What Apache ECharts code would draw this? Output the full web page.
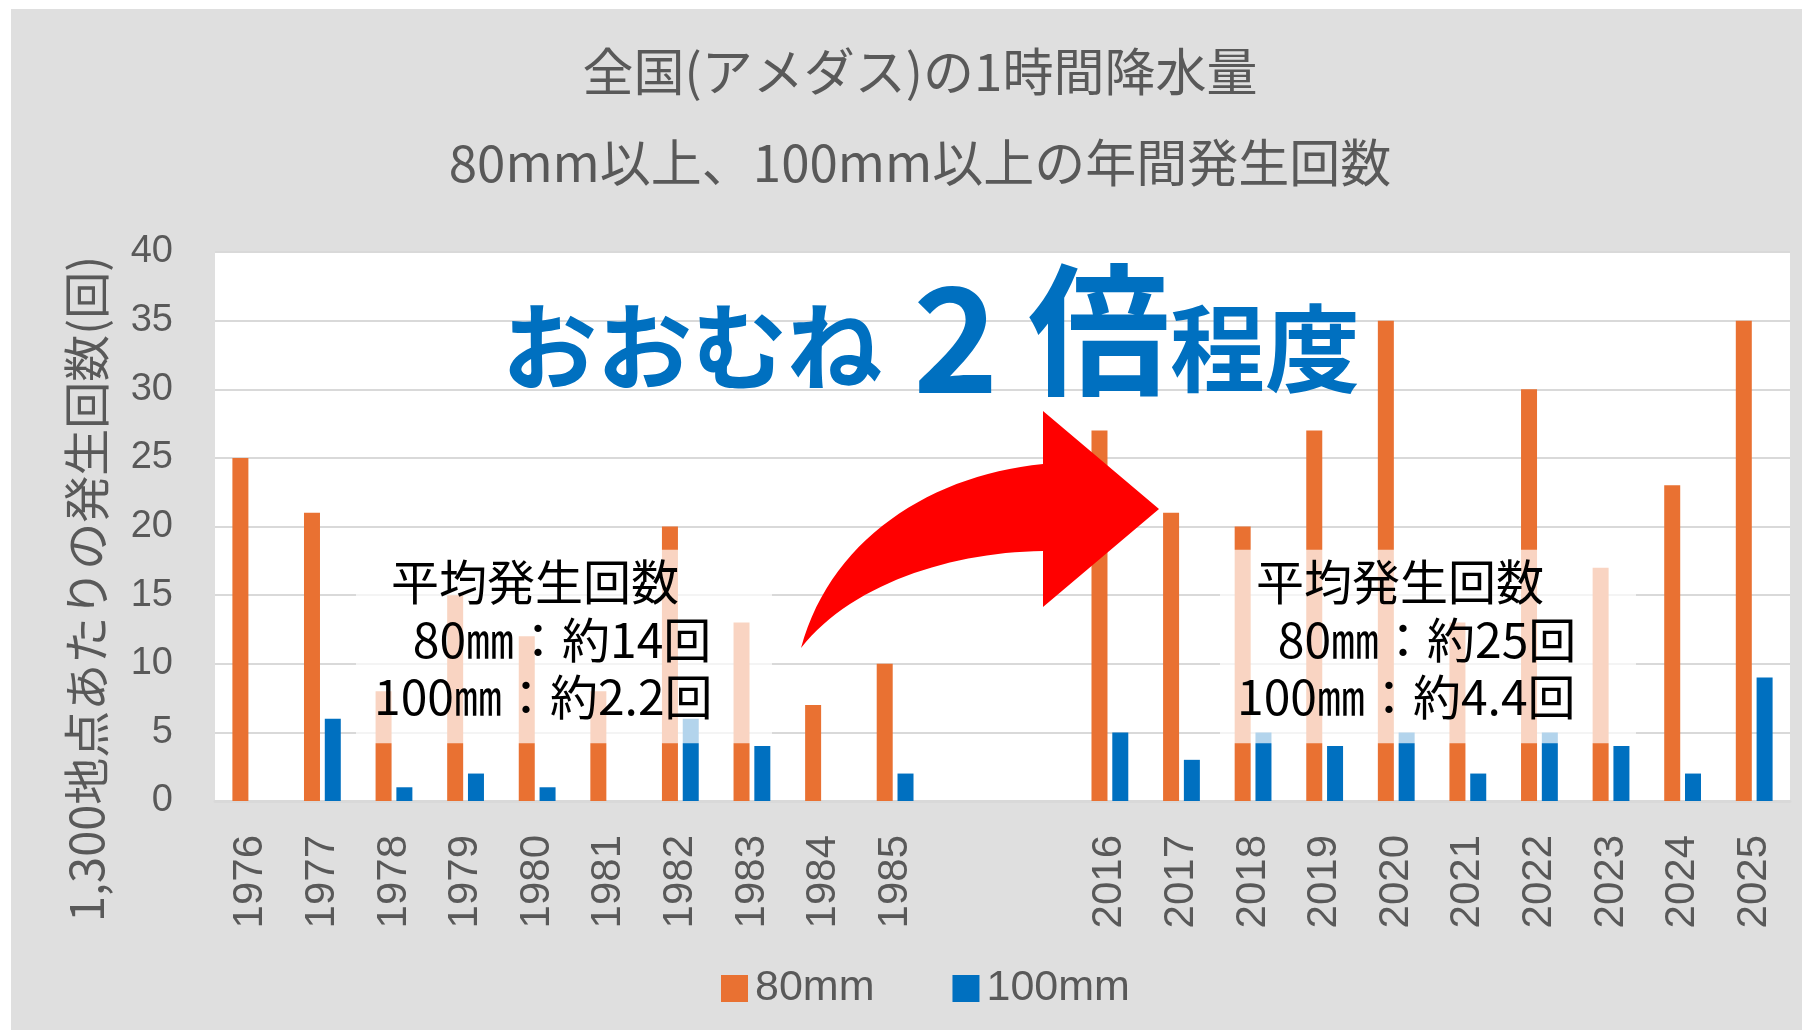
<!DOCTYPE html>
<html>
<head>
<meta charset="utf-8">
<script src="https://cdn.jsdelivr.net/npm/echarts@6/dist/echarts.min.js"></script>
<style>
html,body{margin:0;padding:0;background:#fff;}
#chart{width:1802px;height:1030px;}
</style>
</head>
<body>
<div id="chart"></div>
<script>
// ---- data ----
const categories = ['1976','1977','1978','1979','1980','1981','1982','1983','1984','1985',' ','  ',
                    '2016','2017','2018','2019','2020','2021','2022','2023','2024','2025'];
const rain80  = [25,21,8,15,12,8,20,13,7,10,null,null,27,21,20,27,35,13,30,17,23,35];
const rain100 = [0,6,1,2,1,0,6,4,0,2,null,null,5,3,5,4,5,2,5,4,2,9];
const seriesNames = ['80mm','100mm'];
const yTicks = {min:0, max:40, interval:5};
const titleLines = ['全国(アメダス)の1時間降水量','80mm以上、100mm以上の年間発生回数'];
const yAxisTitle = '1,300地点あたりの発生回数(回)';
const boxLeftLines = ['平均発生回数',' 80㎜：約14回','100㎜：約2.2回'];
const boxRightLines = ['平均発生回数',' 80㎜：約25回','100㎜：約4.4回'];
const boxValueRange = [4.2, 18.3];

const GRAY = '#595959';
const LATIN = '"Liberation Sans", Arial, sans-serif';
const CJK = '"Noto Sans CJK JP", "Noto Sans", sans-serif';

const chart = echarts.init(document.getElementById('chart'), null, {renderer:'canvas'});

chart.setOption({
  backgroundColor: '#dfdfdf',
  animation: false,
  title: {
    text: titleLines.join('\n'),
    left: 915, top: 21, textAlign: 'center',
    textStyle: {fontFamily: CJK, fontWeight: 'normal', fontSize: 51, color: GRAY, lineHeight: 91}
  },
  legend: {
    data: seriesNames,
    left: 716, top: 962,
    itemWidth: 27, itemHeight: 27, itemGap: 78,
    icon: 'rect',
    textStyle: {fontFamily: LATIN, fontSize: 43, color: GRAY, padding: [0,0,0,2]}
  },
  grid: {left: 215, right: 12, top: 252, bottom: 229, show: true, backgroundColor: '#ffffff', borderWidth: 0, containLabel: false},
  xAxis: {
    type: 'category', data: categories,
    axisLine: {show: true, lineStyle: {color: '#d9d9d9', width: 3}},
    axisTick: {show: false},
    axisLabel: {rotate: 90, margin: 34, fontFamily: LATIN, fontSize: 42, color: GRAY, interval: 0}
  },
  yAxis: {
    type: 'value', min: yTicks.min, max: yTicks.max, interval: yTicks.interval,
    axisLine: {show: false}, axisTick: {show: false},
    axisLabel: {margin: 42, fontFamily: LATIN, fontSize: 38, color: GRAY},
    splitLine: {lineStyle: {color: '#d9d9d9', width: 2}}
  },
  series: [
    {name: seriesNames[0], type: 'bar', data: rain80, barWidth: 16, barGap: '30%', itemStyle: {color: '#E97132'}},
    {name: seriesNames[1], type: 'bar', data: rain100, barWidth: 16, barGap: '30%', itemStyle: {color: '#0070C0'}}
  ]
});

// annotation layer
const yTop = chart.convertToPixel({yAxisIndex:0}, boxValueRange[1]);
const yBot = chart.convertToPixel({yAxisIndex:0}, boxValueRange[0]);

function boxTexts(lines, xs) {
  const ys = [582, 640, 697];
  return lines.map((t, i) => ({
    type: 'text', z: 120, x: xs[i], y: ys[i],
    style: {text: t, fontFamily: CJK, fontSize: 48, fill: '#000', textAlign: 'left', textVerticalAlign: 'middle'}
  }));
}

function cubic(p0, p1, p2, p3, n) {
  const pts = [];
  for (let i = 0; i <= n; i++) {
    const t = i / n, u = 1 - t;
    pts.push([
      u*u*u*p0[0] + 3*u*u*t*p1[0] + 3*u*t*t*p2[0] + t*t*t*p3[0],
      u*u*u*p0[1] + 3*u*u*t*p1[1] + 3*u*t*t*p2[1] + t*t*t*p3[1]
    ]);
  }
  return pts;
}
const arrowPts = [
  ...cubic([801,648],[830,540],[930,475],[1043,464],30),
  [1043,411],[1159,509],[1043,607],
  ...cubic([1043,551],[950,552],[850,585],[801,648],30)
];

const graphics = [
  {type:'rect', z: 200, shape:{x:0,y:0,width:1802,height:9}, style:{fill:'#ffffff'}},
  {type:'rect', z: 200, shape:{x:0,y:0,width:11,height:1030}, style:{fill:'#ffffff'}},
  {type:'rect', z: 100, shape:{x:356, y:yTop, width:416, height:yBot-yTop}, style:{fill:'rgba(255,255,255,0.7)'}},
  {type:'rect', z: 100, shape:{x:1220, y:yTop, width:416, height:yBot-yTop}, style:{fill:'rgba(255,255,255,0.7)'}},
  ...boxTexts(boxLeftLines, [391, 402, 374]),
  ...boxTexts(boxRightLines, [1256, 1267, 1237]),
  {type:'polygon', z: 110, shape:{points: arrowPts}, style:{fill:'#FF0000'}},
  {type:'text', z: 130, x: 502, y: 347, style:{text:'おおむね', fontFamily: CJK, fontWeight:'bold', fontSize: 95, fill:'#0070C0', textAlign:'left', textVerticalAlign:'middle'}},
  {type:'text', z: 130, x: 913, y: 338, style:{text:'2', fontFamily: CJK, fontWeight:'bold', fontSize: 145, fill:'#0070C0', textAlign:'left', textVerticalAlign:'middle'}},
  {type:'text', z: 130, x: 1028, y: 330, style:{text:'倍', fontFamily: CJK, fontWeight:'bold', fontSize: 142, fill:'#0070C0', textAlign:'left', textVerticalAlign:'middle'}},
  {type:'text', z: 130, x: 1170, y: 349, style:{text:'程度', fontFamily: CJK, fontWeight:'bold', fontSize: 95, fill:'#0070C0', textAlign:'left', textVerticalAlign:'middle'}},
  {type:'text', z: 130, x: 86, y: 589, rotation: Math.PI/2, style:{text: yAxisTitle, fontFamily: CJK, fontSize: 47, fill: GRAY, textAlign:'center', textVerticalAlign:'middle'}}
];
chart.setOption({graphic: {elements: graphics}});
</script>
</body>
</html>
